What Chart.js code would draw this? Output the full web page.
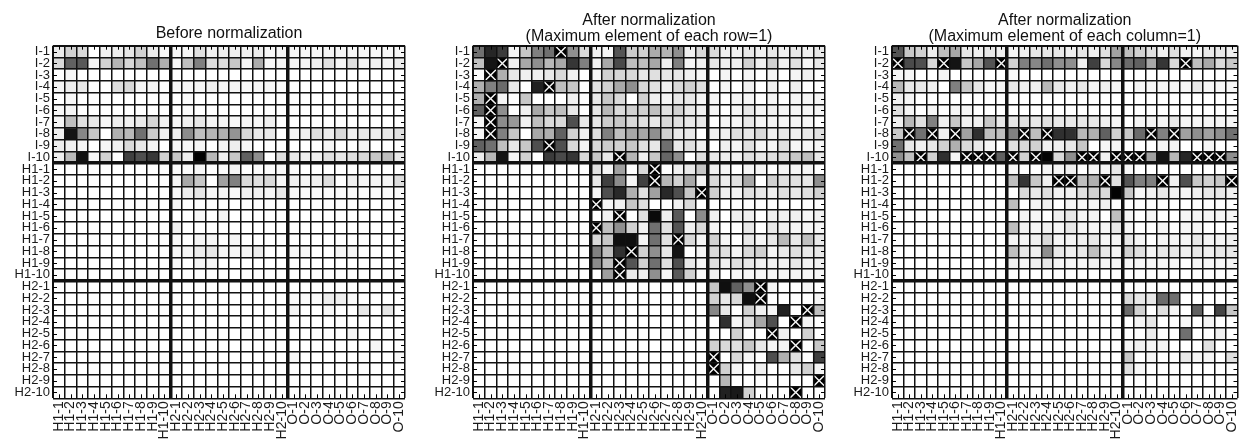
<!DOCTYPE html>
<html><head><meta charset="utf-8">
<script src="https://cdn.jsdelivr.net/npm/chart.js@4.4.1/dist/chart.umd.min.js"></script>
<style>
html,body{margin:0;padding:0;background:#fff;width:1247px;height:443px;overflow:hidden;}
canvas{position:absolute;top:0;}
</style></head><body>
<canvas id="c1" width="420" height="443" style="left:0px"></canvas>
<canvas id="c2" width="420" height="443" style="left:420px"></canvas>
<canvas id="c3" width="408" height="443" style="left:839px"></canvas>
<script>
const rowLabels = ['I-1','I-2','I-3','I-4','I-5','I-6','I-7','I-8','I-9','I-10',
  'H1-1','H1-2','H1-3','H1-4','H1-5','H1-6','H1-7','H1-8','H1-9','H1-10',
  'H2-1','H2-2','H2-3','H2-4','H2-5','H2-6','H2-7','H2-8','H2-9','H2-10'];
const colLabels = ['H1-1','H1-2','H1-3','H1-4','H1-5','H1-6','H1-7','H1-8','H1-9','H1-10',
  'H2-1','H2-2','H2-3','H2-4','H2-5','H2-6','H2-7','H2-8','H2-9','H2-10',
  'O-1','O-2','O-3','O-4','O-5','O-6','O-7','O-8','O-9','O-10'];

const titleBefore = 'Before normalization';
const titleRow = ['After normalization', '(Maximum element of each row=1)'];
const titleCol = ['After normalization', '(Maximum element of each column=1)'];

// Panel 1: raw values (scaled to global max)
const beforeNorm = [
[0.08,0.18,0.15,0,0.05,0.07,0.10,0.18,0.08,0.03, 0.03,0.03,0.12,0.05,0.06,0.06,0.05,0.07,0.03,0.04, 0.04,0.03,0.03,0.04,0.03,0.03,0.03,0.03,0.03,0.03],
[0.15,0.62,0.65,0.04,0.18,0.29,0.16,0.25,0.56,0.31, 0.04,0.25,0.50,0.13,0.13,0.22,0.04,0.33,0.03,0.04, 0.04,0.04,0.06,0.12,0.04,0.12,0.04,0.06,0.04,0.07],
[0,0.03,0,0,0,0,0,0,0,0, 0,0,0,0,0,0,0,0,0,0, 0,0,0,0,0,0,0,0,0,0],
[0.04,0.07,0.09,0,0,0.13,0.15,0.04,0.04,0, 0.03,0.03,0.04,0.06,0.04,0.04,0.02,0.03,0.03,0.02, 0,0,0,0,0,0,0,0,0,0],
[0,0.03,0,0,0,0,0,0,0,0, 0,0.02,0,0,0,0,0,0,0,0, 0,0,0,0,0,0,0,0,0,0],
[0.03,0.04,0,0,0,0,0,0,0,0, 0,0.02,0,0,0,0,0,0,0,0, 0,0,0,0,0,0,0,0,0,0],
[0.04,0.25,0.12,0.09,0.03,0.07,0.06,0.08,0.16,0.05, 0.03,0.06,0.09,0.04,0.04,0.03,0.04,0.03,0.06,0, 0,0,0,0,0,0,0,0,0,0],
[0.06,0.92,0.47,0.22,0,0.31,0.28,0.56,0.20,0.06, 0.06,0.45,0.25,0.29,0.31,0.42,0.16,0.09,0.09,0, 0.04,0.06,0.12,0.07,0.15,0.06,0.09,0.07,0.09,0.12],
[0.07,0.06,0.04,0,0.04,0.06,0.15,0.09,0.04,0, 0.03,0.03,0.04,0,0.04,0.07,0.03,0,0,0, 0,0,0,0.04,0,0,0.04,0,0,0],
[0.07,0.27,0.93,0.04,0.18,0,0.75,0.69,0.78,0.18, 0.22,0.07,1,0.28,0.06,0.22,0.62,0.44,0,0.12, 0.09,0.07,0.06,0.12,0.09,0.12,0.15,0.22,0.25,0.09],
[0,0,0,0,0,0,0,0,0,0, 0.02,0.02,0.03,0,0.02,0.04,0,0.02,0.02,0.03, 0.02,0,0,0,0,0,0,0,0,0],
[0,0,0,0,0,0,0,0,0,0, 0.04,0.34,0.22,0,0.37,0.50,0.15,0.12,0.15,0.03, 0.06,0.04,0.06,0.13,0,0.06,0.04,0.04,0.04,0.13],
[0,0,0,0,0,0,0,0,0,0, 0.03,0.07,0.10,0.03,0.04,0.03,0.06,0.06,0.04,0.09, 0.03,0.02,0.02,0.02,0.02,0.02,0.02,0.02,0.02,0.02],
[0,0,0,0,0,0,0,0,0,0, 0.04,0,0,0,0,0,0,0,0,0, 0,0,0,0,0,0,0,0,0,0],
[0,0,0,0,0,0,0,0,0,0, 0,0,0.03,0,0.04,0,0,0,0,0, 0,0,0,0,0,0,0,0,0,0],
[0,0,0,0,0,0,0,0,0,0, 0.06,0,0,0,0,0,0,0,0,0, 0,0,0,0,0,0,0,0,0,0],
[0,0,0,0,0,0,0,0,0,0, 0.03,0,0.04,0.03,0,0.04,0,0,0,0, 0,0,0,0,0,0,0,0,0,0],
[0,0,0,0,0,0,0,0,0,0, 0.04,0.04,0.07,0.09,0.04,0.04,0.04,0.07,0,0, 0.03,0.03,0,0,0.03,0.04,0,0,0,0],
[0,0,0,0,0,0,0,0,0,0, 0.03,0,0.04,0.03,0,0,0,0,0,0, 0,0,0,0,0,0,0,0,0,0],
[0,0,0,0,0,0,0,0,0,0, 0,0,0,0,0,0,0,0,0,0, 0,0,0,0,0,0,0,0,0,0],
[0,0,0,0,0,0,0,0,0,0, 0,0,0,0,0,0,0,0,0,0, 0,0,0,0,0,0,0,0,0,0],
[0,0,0,0,0,0,0,0,0,0, 0,0,0,0,0,0,0,0,0,0, 0.02,0.02,0.02,0.07,0.06,0.02,0,0,0,0],
[0,0,0,0,0,0,0,0,0,0, 0,0,0,0,0,0,0,0,0,0, 0.04,0,0,0.03,0,0,0.09,0,0.10,0],
[0,0,0,0,0,0,0,0,0,0, 0,0,0,0,0,0,0,0,0,0, 0,0,0,0,0,0,0,0,0,0],
[0,0,0,0,0,0,0,0,0,0, 0,0,0,0,0,0,0,0,0,0, 0,0,0,0,0,0.04,0,0,0,0],
[0,0,0,0,0,0,0,0,0,0, 0,0,0,0,0,0,0,0,0,0, 0,0,0,0,0,0,0,0.03,0,0],
[0,0,0,0,0,0,0,0,0,0, 0,0,0,0,0,0,0,0,0,0, 0.03,0,0,0,0,0,0,0,0,0.03],
[0,0,0,0,0,0,0,0,0,0, 0,0,0,0,0,0,0,0,0,0, 0,0,0,0,0,0,0,0,0,0],
[0,0,0,0,0,0,0,0,0,0, 0,0,0,0,0,0,0,0,0,0, 0,0,0,0,0,0,0,0,0,0],
[0,0,0,0,0,0,0,0,0,0, 0,0,0,0,0,0,0,0,0,0, 0,0,0,0,0,0,0,0,0,0]
];

// Panel 2: maximum element of each row = 1
const rowNorm = [
[0.56,0.85,0.77,0.04,0.22,0.50,0.56,1,0.44,0.15, 0.06,0.04,0.67,0.20,0.18,0.33,0.29,0.44,0.06,0.15, 0.15,0.06,0.06,0.09,0.06,0.09,0.06,0.09,0.06,0.09],
[0.25,0.92,1,0.06,0.34,0.44,0.28,0.34,0.79,0.50, 0.06,0.34,0.71,0.25,0.25,0.34,0.06,0.50,0.04,0.06, 0.09,0.06,0.06,0.18,0.06,0.18,0.06,0.12,0.04,0.09],
[0.02,1,0.31,0.09,0.06,0.06,0.09,0.15,0.06,0, 0.04,0.18,0.16,0.15,0.09,0.12,0.09,0.09,0.06,0.04, 0,0.04,0,0.04,0,0.04,0,0.04,0.06,0],
[0.31,0.50,0.58,0.09,0,0.87,1,0.25,0.22,0, 0.12,0.18,0.34,0.44,0.15,0.12,0.06,0.15,0.18,0.12, 0,0.04,0,0.06,0,0.06,0,0.06,0,0],
[0.31,1,0.04,0,0.22,0,0,0,0.06,0, 0.09,0.22,0.15,0,0.18,0.06,0.04,0.09,0.09,0.04, 0.04,0,0.04,0.04,0,0.04,0,0.04,0.04,0.04],
[0.62,1,0.44,0,0.06,0.34,0.22,0.25,0.09,0, 0.09,0.28,0.15,0.18,0.18,0.25,0.12,0.18,0.09,0.06, 0.04,0,0.04,0.09,0.04,0.06,0.04,0.04,0.04,0.04],
[0.04,1,0.45,0.40,0.06,0.25,0.15,0.15,0.69,0.09, 0.09,0.20,0.22,0.15,0.12,0.09,0.15,0.12,0.09,0.09, 0,0.04,0.04,0.09,0.04,0.04,0.04,0.04,0.04,0],
[0.04,1,0.50,0.22,0,0.34,0.31,0.62,0.18,0.06, 0.12,0.50,0.25,0.34,0.34,0.44,0.18,0.09,0.09,0, 0.06,0.06,0.12,0.09,0.15,0.06,0.09,0.06,0.09,0.12],
[0.62,0.56,0.25,0.09,0.22,0.69,1,0.69,0.15,0.04, 0.15,0.20,0.18,0.22,0.12,0.09,0.56,0.09,0.12,0.06, 0,0.06,0.04,0.12,0.04,0.04,0.12,0.04,0.04,0.04],
[0.07,0.28,0.92,0.04,0.18,0,0.77,0.71,0.79,0.15, 0.22,0.09,1,0.29,0.06,0.22,0.60,0.44,0,0.12, 0.09,0.07,0.06,0.12,0.09,0.12,0.15,0.22,0.25,0.09],
[0,0,0,0,0,0,0,0,0,0, 0.12,0.04,0.37,0,0.15,1,0,0.06,0.09,0.22, 0.06,0.04,0,0.04,0.04,0,0.04,0.04,0.04,0],
[0,0,0,0,0,0,0,0,0,0, 0.09,0.75,0.45,0.04,0.75,1,0.28,0.18,0.34,0.04, 0.15,0.07,0.12,0.34,0,0.18,0.12,0.12,0.09,0.44],
[0,0,0,0,0,0,0,0,0,0, 0.04,0.69,0.84,0.31,0.12,0.37,0.84,0.69,0.22,1, 0.18,0.06,0.04,0.12,0.09,0.06,0.12,0.09,0.12,0.18],
[0,0,0,0,0,0,0,0,0,0, 1,0.04,0.06,0.22,0.12,0,0,0.06,0.15,0, 0,0,0,0,0,0,0,0,0,0],
[0,0,0,0,0,0,0,0,0,0, 0,0.06,1,0,0.12,0.96,0.06,0.65,0,0.45, 0.06,0,0.06,0.06,0,0.06,0.06,0.06,0.04,0.06],
[0,0,0,0,0,0,0,0,0,0, 1,0.25,0.44,0.18,0.06,0.56,0.12,0.67,0.06,0.15, 0.04,0,0,0.09,0,0.09,0.06,0.04,0.04,0.04],
[0,0,0,0,0,0,0,0,0,0, 0.15,0.22,0.94,0.94,0.04,0.56,0.12,1,0.15,0.04, 0.18,0.04,0,0.09,0.04,0.09,0.28,0.09,0.25,0.09],
[0,0,0,0,0,0,0,0,0,0, 0.50,0.25,0.81,1,0.18,0.44,0.09,0.92,0,0.04, 0.15,0.12,0.04,0.15,0.18,0.04,0.09,0.12,0.09,0.09],
[0,0,0,0,0,0,0,0,0,0, 0.45,0.25,1,0.67,0.18,0.56,0.12,0.69,0.09,0.04, 0.12,0.06,0.12,0.09,0.06,0.06,0.06,0.09,0.06,0.06],
[0,0,0,0,0,0,0,0,0,0, 0,0.38,1,0.09,0.06,0.44,0.04,0.65,0.18,0.02, 0.06,0,0.04,0.04,0.04,0.04,0.04,0.04,0.04,0.04],
[0,0,0,0,0,0,0,0,0,0, 0,0,0,0,0,0,0,0,0,0, 0.22,0.94,0.62,0.44,1,0.04,0,0,0.04,0],
[0,0,0,0,0,0,0,0,0,0, 0,0,0,0,0,0,0,0,0,0, 0.18,0.09,0.15,0.94,1,0,0,0,0,0.04],
[0,0,0,0,0,0,0,0,0,0, 0,0,0,0,0,0,0,0,0,0, 0.47,0.09,0,0.18,0.06,0.04,0.87,0,1,0.25],
[0,0,0,0,0,0,0,0,0,0, 0,0,0,0,0,0,0,0,0,0, 0,0.81,0.04,0.12,0.34,0.69,0,1,0.04,0],
[0,0,0,0,0,0,0,0,0,0, 0,0,0,0,0,0,0,0,0,0, 0,0,0.18,0,0,1,0.06,0,0.18,0],
[0,0,0,0,0,0,0,0,0,0, 0,0,0,0,0,0,0,0,0,0, 0.18,0.15,0.12,0.22,0.09,0.04,0.04,1,0,0.22],
[0,0,0,0,0,0,0,0,0,0, 0,0,0,0,0,0,0,0,0,0, 1,0,0.15,0.04,0,0.69,0.31,0.12,0,0.75],
[0,0,0,0,0,0,0,0,0,0, 0,0,0,0,0,0,0,0,0,0, 1,0.18,0.04,0,0.06,0,0,0.09,0.18,0.04],
[0,0,0,0,0,0,0,0,0,0, 0,0,0,0,0,0,0,0,0,0, 0,0.28,0,0,0,0,0,0,0,1],
[0,0,0,0,0,0,0,0,0,0, 0,0,0,0,0,0,0,0,0,0, 0,0.87,0.90,0.18,0,0,0,1,0,0]
];

// Panel 3: maximum element of each column = 1
const colNorm = [
[0.67,0.22,0.18,0.06,0.25,0.34,0.09,0.06,0.09,0.06, 0.04,0.06,0.09,0.09,0.09,0.06,0.09,0.06,0.12,0.37, 0.25,0.18,0.12,0.06,0.12,0.06,0.04,0.09,0.09,0.06],
[1,0.71,0.69,0.15,1,0.92,0.22,0.34,0.67,1, 0.18,0.50,0.47,0.56,0.44,0.44,0.06,0.75,0.15,0.47, 0.58,0.62,0.34,0.79,0.15,1,0.25,0.34,0.15,0.22],
[0.04,0.04,0,0,0.04,0,0,0,0,0, 0.02,0,0,0,0,0,0,0,0,0, 0,0,0,0,0,0,0,0,0,0],
[0.28,0.09,0.09,0.06,0,0.50,0.22,0.09,0.04,0.04, 0.09,0.06,0.06,0.28,0.09,0.06,0.09,0.04,0.06,0.04, 0,0.04,0.04,0.04,0.04,0.04,0.09,0.04,0.04,0.04],
[0.06,0.04,0,0,0,0,0,0,0,0, 0,0,0,0,0,0,0,0,0,0, 0,0,0,0,0,0,0,0,0,0],
[0.12,0.04,0,0.04,0,0.04,0.04,0,0,0, 0,0,0,0,0,0,0,0,0,0, 0,0,0,0,0,0,0,0,0,0],
[0.06,0.28,0.12,0.50,0.06,0.22,0.06,0.06,0.22,0.09, 0.09,0.12,0.09,0.12,0.09,0.09,0.09,0.09,0.06,0.04, 0,0.04,0.04,0.04,0.09,0.04,0.04,0.04,0.04,0.04],
[0.22,1,0.56,1,0.06,1,0.37,0.81,0.25,0.25, 0.50,1,0.25,1,0.81,0.81,0.28,0.31,0.62,0.18, 0.22,0.58,1,0.50,1,0.37,0.44,0.37,0.44,0.56],
[0.56,0.09,0.06,0.09,0.18,0.31,0.15,0.09,0.04,0, 0.12,0.15,0.18,0.06,0.06,0.09,0.22,0,0.04,0.04, 0,0,0,0.04,0.04,0,0,0.04,0,0],
[0.44,0.25,1,0.18,0.81,0.04,1,1,1,0.62, 1,0.18,1,0.99,0.15,0.44,1,1,0.06,1, 1,1,0.37,0.92,0.28,0.85,1,1,1,0.44],
[0,0,0,0,0,0,0,0,0,0, 0.03,0,0,0.04,0.04,0.06,0,0.04,0.04,0.09, 0.03,0,0,0,0,0,0,0,0,0],
[0,0,0,0,0,0,0,0,0,0, 0.25,0.79,0.22,0.06,1,1,0.25,0.31,1,0.12, 0.67,0.50,0.50,1,0.06,0.69,0.22,0.18,0.22,1],
[0,0,0,0,0,0,0,0,0,0, 0,0.15,0.09,0.12,0.06,0.06,0.12,0.18,0.15,0.99, 0.22,0.04,0.06,0.09,0.06,0.04,0.06,0.09,0.09,0.06],
[0,0,0,0,0,0,0,0,0,0, 0.25,0,0.04,0.06,0,0.04,0.04,0.04,0.06,0, 0,0,0,0,0,0,0,0,0,0],
[0,0,0,0,0,0,0,0,0,0, 0,0.04,0.04,0,0.06,0.09,0.04,0.04,0,0.25, 0.04,0,0.04,0,0,0.04,0.04,0.04,0.04,0.04],
[0,0,0,0,0,0,0,0,0,0, 0.25,0.06,0.04,0.06,0.04,0.09,0.04,0.04,0.04,0.09, 0.04,0,0,0.04,0,0.04,0.04,0,0,0],
[0,0,0,0,0,0,0,0,0,0, 0.04,0.04,0.06,0.15,0.04,0.04,0.06,0.09,0.04,0.04, 0.09,0.04,0,0.04,0.04,0.04,0.09,0.04,0.04,0.06],
[0,0,0,0,0,0,0,0,0,0, 0.25,0.09,0.06,0.44,0.09,0.06,0.09,0.25,0.09,0.04, 0.18,0.12,0.04,0.09,0.09,0.06,0.09,0.06,0.09,0.09],
[0,0,0,0,0,0,0,0,0,0, 0.06,0.04,0.06,0.09,0.04,0.04,0.04,0.06,0.04,0.04, 0.04,0.04,0.04,0.04,0.04,0,0.04,0.04,0.04,0.04],
[0,0,0,0,0,0,0,0,0,0, 0,0,0,0,0,0,0,0,0,0, 0,0,0,0,0,0,0,0,0,0],
[0,0,0,0,0,0,0,0,0,0, 0,0,0,0,0,0,0,0,0,0, 0,0,0,0,0,0,0,0,0,0],
[0,0,0,0,0,0,0,0,0,0, 0,0,0,0,0,0,0,0,0,0, 0.15,0.09,0.09,0.58,0.56,0,0,0,0,0],
[0,0,0,0,0,0,0,0,0,0, 0,0,0,0,0,0,0,0,0,0, 0.58,0.18,0,0.12,0.04,0,0.62,0,0.73,0.22],
[0,0,0,0,0,0,0,0,0,0, 0,0,0,0,0,0,0,0,0,0, 0,0.04,0.09,0,0,0.03,0,0.04,0,0],
[0,0,0,0,0,0,0,0,0,0, 0,0,0,0,0,0,0,0,0,0, 0,0,0.07,0,0,0.56,0,0,0.06,0],
[0,0,0,0,0,0,0,0,0,0, 0,0,0,0,0,0,0,0,0,0, 0.04,0.06,0.04,0.04,0,0,0,0.12,0,0],
[0,0,0,0,0,0,0,0,0,0, 0,0,0,0,0,0,0,0,0,0, 0.22,0,0.04,0,0,0.09,0.04,0.04,0,0.12],
[0,0,0,0,0,0,0,0,0,0, 0,0,0,0,0,0,0,0,0,0, 0.12,0.03,0,0,0,0,0,0,0,0],
[0,0,0,0,0,0,0,0,0,0, 0,0,0,0,0,0,0,0,0,0, 0,0,0,0,0,0,0,0,0,0],
[0,0,0,0,0,0,0,0,0,0, 0,0,0,0,0,0,0,0,0,0, 0,0,0,0,0,0,0,0,0,0]
];

function hasFont(name) {
  const c = document.createElement('canvas').getContext('2d');
  const s = 'H1-10 mmmwwwiii';
  c.font = '40px monospace';
  const w1 = c.measureText(s).width;
  c.font = '40px "' + name + '", monospace';
  return Math.abs(c.measureText(s).width - w1) > 0.5;
}
const narrow = hasFont('Liberation Sans Narrow');
const yFont = narrow ? {family: "'Liberation Sans Narrow', 'Liberation Sans', Arial, sans-serif", size: 15}
                     : {family: "'Liberation Sans', Arial, sans-serif", size: 13};
const xFont = {family: "'Liberation Sans', Arial, sans-serif", size: 14};

function gray(v) {
  const g = Math.round(255 * (1 - Math.max(0, Math.min(1, v))));
  return 'rgb(' + g + ',' + g + ',' + g + ')';
}
function gridWidth(i) {
  if (i === 0 || i === 30) return 2;
  if (i === 10 || i === 20) return 3.5;
  return 1.5;
}

const innerTicks = {
  id: 'innerTicks',
  afterDraw(chart) {
    const {ctx, chartArea: a} = chart;
    const xs = chart.scales.x, ys = chart.scales.yl;
    ctx.save();
    ctx.strokeStyle = '#000';
    ctx.lineWidth = 1;
    ctx.beginPath();
    for (let i = 0; i < xs.ticks.length; i++) {
      const p = Math.round(xs.getPixelForTick(i)) + 0.5;
      ctx.moveTo(p, a.top); ctx.lineTo(p, a.top + 4);
      ctx.moveTo(p, a.bottom); ctx.lineTo(p, a.bottom - 4);
    }
    for (let i = 0; i < ys.ticks.length; i++) {
      const p = Math.round(ys.getPixelForTick(i)) + 0.5;
      ctx.moveTo(a.left, p); ctx.lineTo(a.left + 4, p);
      ctx.moveTo(a.right, p); ctx.lineTo(a.right - 4, p);
    }
    ctx.stroke();
    ctx.restore();
  }
};

function buildPanel(id, matrix, title, showMax, rightPad, tPad, bPad) {
  const datasets = rowLabels.map((rl, r) => ({
    type: 'bar',
    label: rl,
    data: colLabels.map(() => [r, r + 1]),
    backgroundColor: matrix[r].map(gray),
    borderWidth: 0,
    grouped: false,
    categoryPercentage: 1,
    barPercentage: 1,
    xAxisID: 'x', yAxisID: 'y'
  }));
  if (showMax) {
    const pts = [];
    matrix.forEach((row, r) => row.forEach((v, c) => {
      if (v >= 1) pts.push({x: colLabels[c], y: r + 0.5});
    }));
    datasets.push({
      type: 'scatter', label: 'max', data: pts, order: -1,
      pointStyle: 'crossRot', pointRadius: 8, pointHoverRadius: 8,
      borderColor: '#f4f4f4', backgroundColor: '#f4f4f4', borderWidth: 1.5,
      xAxisID: 'x', yAxisID: 'y'
    });
  }
  return new Chart(document.getElementById(id), {
    type: 'bar',
    data: {labels: colLabels, datasets},
    plugins: [innerTicks],
    options: {
      responsive: false, animation: false, events: [],
      devicePixelRatio: 1,
      layout: {padding: {left: 0, right: rightPad, top: 0, bottom: 0}},
      plugins: {
        legend: {display: false},
        tooltip: {enabled: false},
        title: {
          display: true, text: title, fullSize: false, color: '#111',
          font: {family: "'Liberation Sans', Arial, sans-serif", size: 16, weight: 'normal', lineHeight: 1},
          padding: {top: tPad, bottom: bPad}
        }
      },
      scales: {
        x: {
          type: 'category', offset: true, position: 'bottom',
          grid: {offset: true, z: 1, color: '#111', lineWidth: c => gridWidth(c.index), drawTicks: false},
          border: {display: false},
          ticks: {autoSkip: false, maxRotation: 90, minRotation: 90, padding: 3, font: xFont, color: '#1a1a1a'},
          afterFit: s => { s.height = 44.7; s.paddingLeft = 0; s.paddingRight = 0; }
        },
        y: {type: 'linear', display: false, min: 0, max: 30, reverse: true},
        yl: {
          type: 'category', axis: 'y', position: 'left', labels: rowLabels, offset: true,
          grid: {offset: true, z: 1, color: '#111', lineWidth: c => gridWidth(c.index), drawTicks: false},
          border: {display: false},
          ticks: {autoSkip: false, padding: 3, font: yFont, color: '#1a1a1a'},
          afterFit: s => { s.width = 53; s.paddingTop = 0; s.paddingBottom = 0; }
        }
      }
    }
  });
}

buildPanel('c1', beforeNorm, titleBefore, false, 15, 26, 3.7);
buildPanel('c2', rowNorm, titleRow, true, 15, 12.5, 1.2);
buildPanel('c3', colNorm, titleCol, true, 5, 12.5, 1.2);
</script>
</body></html>
